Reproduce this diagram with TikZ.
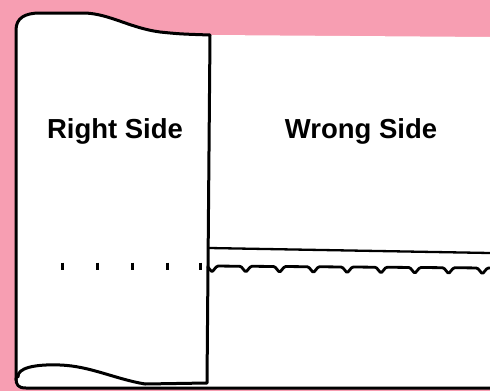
\documentclass[tikz,border=0pt]{standalone}
\usepackage{fontspec}
\setmainfont{Liberation Sans}
\definecolor{bgpink}{RGB}{247,158,178}
\begin{document}
\begin{tikzpicture}[x=1pt,y=-1pt,
  outline/.style={draw=black,line width=3pt,line join=round,line cap=round},
  foldline/.style={draw=black,line width=2.3pt},
  stitch/.style={draw=black,line width=2.8pt,line join=round,rounded corners=1.2pt},
  pin/.style={draw=black,line width=3pt},
  label/.style={font=\fontsize{27.5}{32}\selectfont\bfseries,anchor=base,inner sep=0pt}]
\useasboundingbox (0,0) rectangle (490,391);
% background
\fill[bgpink] (0,0) rectangle (490,391);
% fabric
\fill[white] (16,30) .. controls (16,18) and (25,13) .. (40,13) -- (85,13)
  .. controls (110,14) and (130,28) .. (160,32) .. controls (180,34) .. (210,35)
  -- (490,37) -- (490,388) -- (24,388) .. controls (16,388) .. (16,380) -- cycle;
% folded-back edge of the fabric
\draw[outline] (16,380) -- (16,30) .. controls (16,18) and (25,13) .. (40,13) -- (85,13)
  .. controls (110,14) and (130,28) .. (160,32) .. controls (180,34) .. (210,35)
  -- (207,383) -- (145,384);
% bottom edge with the curl
\draw[outline] (16,378) .. controls (16,385) and (18,388) .. (26,388) -- (490,388);
\draw[outline] (18,377) .. controls (17,368) and (35,364) .. (60,365)
  .. controls (90,366) and (115,379) .. (145,384);
% hem fold line
\draw[foldline] (209,248) -- (490,253);
% blind stitch
\draw[stitch] (209,266)
  \foreach \k in {0,...,8}{
    -- ({212+33.8*\k-5},{266+(212+33.8*\k-209)/140})
    -- ({212+33.8*\k},{272+(212+33.8*\k-209)/140})
    -- ({212+33.8*\k+5},{266+(212+33.8*\k-209)/140})
  } -- (490,268);
% pin marks on the right side
\foreach \px/\nm in {62/a,97/b,132/c,167/d,200/e}{
  \coordinate (p\nm) at (\px,262.5);
  \draw[pin] (p\nm) -- ++(0,7);
}
% labels
\node[label] (rs) at (115,138) {Right Side};
\node[label] (ws) at (361,138) {Wrong Side};
\end{tikzpicture}
\end{document}
